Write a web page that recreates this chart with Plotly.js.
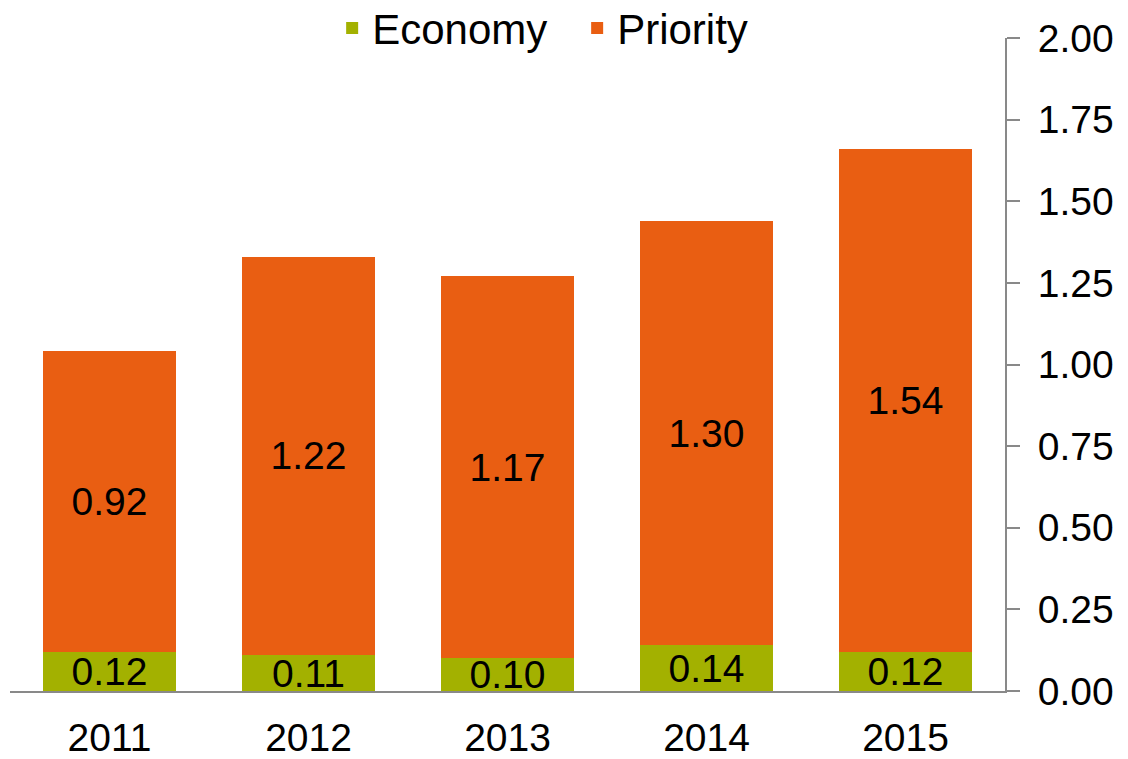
<!DOCTYPE html>
<html>
<head>
<meta charset="utf-8">
<script src="https://cdn.plot.ly/plotly-3.0.1.min.js"></script>
<style>
  html, body { margin: 0; padding: 0; background: #ffffff; }
  #chart { width: 1128px; height: 759px; }
</style>
</head>
<body>
<div id="chart"></div>
<script>
const years = ['2011', '2012', '2013', '2014', '2015'];
const economy = [0.12, 0.11, 0.10, 0.14, 0.12];
const priority = [0.92, 1.22, 1.17, 1.30, 1.54];
const yTicks = [0, 0.25, 0.5, 0.75, 1, 1.25, 1.5, 1.75, 2];

const FONT = 'Liberation Sans, Arial, sans-serif';
const GREEN = '#A3B100';
const ORANGE = '#E95E12';
const AXIS = '#898989';

const common = {
  type: 'bar',
  x: years,
  texttemplate: '%{y:.2f}',
  textposition: 'inside',
  insidetextanchor: 'middle',
  textangle: 0,
  constraintext: 'none',
  cliponaxis: false,
  textfont: { family: FONT, size: 39, color: '#000000' },
  hoverinfo: 'skip'
};

const traces = [
  Object.assign({}, common, { name: 'Economy', y: economy, marker: { color: GREEN } }),
  Object.assign({}, common, { name: 'Priority', y: priority, marker: { color: ORANGE } })
];

const layout = {
  width: 1128,
  height: 759,
  margin: { l: 10, r: 123, t: 38, b: 68, autoexpand: false },
  paper_bgcolor: '#ffffff',
  plot_bgcolor: '#ffffff',
  barmode: 'stack',
  bargap: 0.333,
  font: { family: FONT, size: 39, color: '#000000' },
  showlegend: true,
  legend: {
    orientation: 'h',
    traceorder: 'normal',
    entrywidth: 200,
    entrywidthmode: 'pixels',
    x: 0.570, xanchor: 'center',
    y: 1.015, yanchor: 'middle',
    font: { family: FONT, size: 42, color: '#000000' },
    bgcolor: 'rgba(0,0,0,0)'
  },
  xaxis: {
    type: 'category',
    showline: true,
    linecolor: AXIS,
    linewidth: 2,
    ticks: '',
    showgrid: false,
    zeroline: false,
    ticklabelstandoff: 11,
    tickfont: { family: FONT, size: 39, color: '#000000' }
  },
  yaxis: {
    side: 'right',
    range: [0, 2],
    tickvals: yTicks,
    tickformat: '.2f',
    showline: true,
    linecolor: AXIS,
    linewidth: 2,
    ticks: 'outside',
    ticklen: 13,
    tickwidth: 2,
    tickcolor: AXIS,
    showgrid: false,
    zeroline: false,
    ticklabelstandoff: 10,
    tickfont: { family: FONT, size: 39, color: '#000000' }
  }
};

Plotly.newPlot('chart', traces, layout, { staticPlot: true, displayModeBar: false });
</script>
</body>
</html>
